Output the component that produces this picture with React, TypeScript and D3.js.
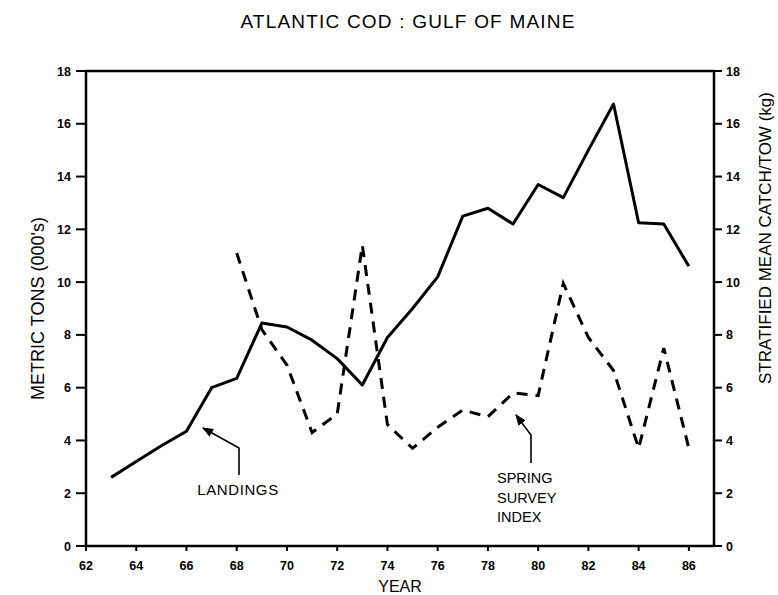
import React from "react";
import * as d3 from "d3";

const years = [63, 64, 65, 66, 67, 68, 69, 70, 71, 72, 73, 74, 75, 76, 77, 78, 79, 80, 81, 82, 83, 84, 85, 86];
const landings = [2.6, 3.2, 3.8, 4.35, 6.0, 6.35, 8.45, 8.3, 7.8, 7.1, 6.1, 7.9, 9.0, 10.2, 12.5, 12.8, 12.2, 13.7, 13.2, 15.0, 16.75, 12.25, 12.2, 10.6];
const surveyYears = [68, 69, 70, 71, 72, 73, 74, 75, 76, 77, 78, 79, 80, 81, 82, 83, 84, 85, 86];
const surveyIndex = [11.1, 8.2, 6.85, 4.3, 5.0, 11.4, 4.6, 3.7, 4.5, 5.15, 4.9, 5.8, 5.7, 9.95, 7.9, 6.65, 3.7, 7.5, 3.7];
const xTicks = [62, 64, 66, 68, 70, 72, 74, 76, 78, 80, 82, 84, 86];
const yTicks = [0, 2, 4, 6, 8, 10, 12, 14, 16, 18];

const W = 778, H = 595;
const L = 86, R = 714, T = 71, B = 546;
const FONT = "'Liberation Sans', Arial, sans-serif";

export default function App() {
  const x = d3.scaleLinear().domain([62, 87]).range([L, R]);
  const yL = d3.scaleLinear().domain([0, 18]).range([B, T]);
  const yR = d3.scaleLinear().domain([0, 18]).range([B, T]);

  const landLine = d3.line<number>().x((_, i) => x(years[i])).y((d) => yL(d));
  const survLine = d3.line<number>().x((_, i) => x(surveyYears[i])).y((d) => yR(d));

  return (
    <svg width={W} height={H} style={{ position: "absolute", left: 0, top: 0, background: "#fff" }} fontFamily={FONT}>
      <defs>
        <marker id="ah" viewBox="0 0 10 10" refX="9" refY="5" markerWidth="7" markerHeight="7" orient="auto-start-reverse">
          <path d="M0,1 L10,5 L0,9 Z" fill="#000" />
        </marker>
      </defs>
      <text x={408} y={28} textAnchor="middle" fontSize={19} letterSpacing={1.2} fill="#000">
        ATLANTIC COD :  GULF OF MAINE
      </text>

      {/* frame */}
      <line x1={L} y1={T} x2={R} y2={T} stroke="#000" strokeWidth={2.5} />
      <line x1={L} y1={T} x2={L} y2={B} stroke="#000" strokeWidth={2.5} />
      <line x1={R} y1={T} x2={R} y2={B} stroke="#000" strokeWidth={2.5} />
      <line x1={L} y1={B} x2={R} y2={B} stroke="#000" strokeWidth={2.5} />

      {/* left axis ticks */}
      {yTicks.map((t) => (
        <g key={"l" + t}>
          <line x1={L - 10} x2={L} y1={yL(t)} y2={yL(t)} stroke="#000" strokeWidth={2} />
          <text x={L - 15} y={yL(t) + 4.5} textAnchor="end" fontSize={12.5} fontWeight="bold">{t}</text>
        </g>
      ))}
      {/* right axis ticks */}
      {yTicks.map((t) => (
        <g key={"r" + t}>
          <line x1={R} x2={R + 8} y1={yR(t)} y2={yR(t)} stroke="#000" strokeWidth={2} />
          <text x={R + 12} y={yR(t) + 4.5} textAnchor="start" fontSize={12.5} fontWeight="bold">{t}</text>
        </g>
      ))}
      {/* x ticks */}
      {xTicks.map((t) => (
        <g key={"x" + t}>
          <line x1={x(t)} x2={x(t)} y1={B} y2={B + 5} stroke="#000" strokeWidth={2} />
          <text x={x(t)} y={B + 24} textAnchor="middle" fontSize={12.5} fontWeight="bold">{t}</text>
        </g>
      ))}

      <text x={(L + R) / 2} y={592} textAnchor="middle" fontSize={16}>YEAR</text>
      <text transform={`translate(44, ${(T + B) / 2}) rotate(-90)`} textAnchor="middle" fontSize={18}>
        METRIC TONS (000's)
      </text>
      <text transform={`translate(771, 238) rotate(-90)`} textAnchor="middle" fontSize={17}>
        STRATIFIED MEAN CATCH/TOW (kg)
      </text>

      <path d={landLine(landings) || ""} fill="none" stroke="#000" strokeWidth={3} strokeLinejoin="round" />
      <path d={survLine(surveyIndex) || ""} fill="none" stroke="#000" strokeWidth={3} strokeDasharray="11 8" />

      {/* annotations */}
      <polyline points="239,475 239,448 203,428" fill="none" stroke="#000" strokeWidth={1.6} markerEnd="url(#ah)" />
      <text x={238} y={495} textAnchor="middle" fontSize={15} letterSpacing={0.6}>LANDINGS</text>

      <polyline points="531,463 531,435 516,415" fill="none" stroke="#000" strokeWidth={1.6} markerEnd="url(#ah)" />
      <text x={497} y={483} fontSize={14.5}>SPRING</text>
      <text x={497} y={503} fontSize={14.5}>SURVEY</text>
      <text x={497} y={522} fontSize={14.5}>INDEX</text>
    </svg>
  );
}
